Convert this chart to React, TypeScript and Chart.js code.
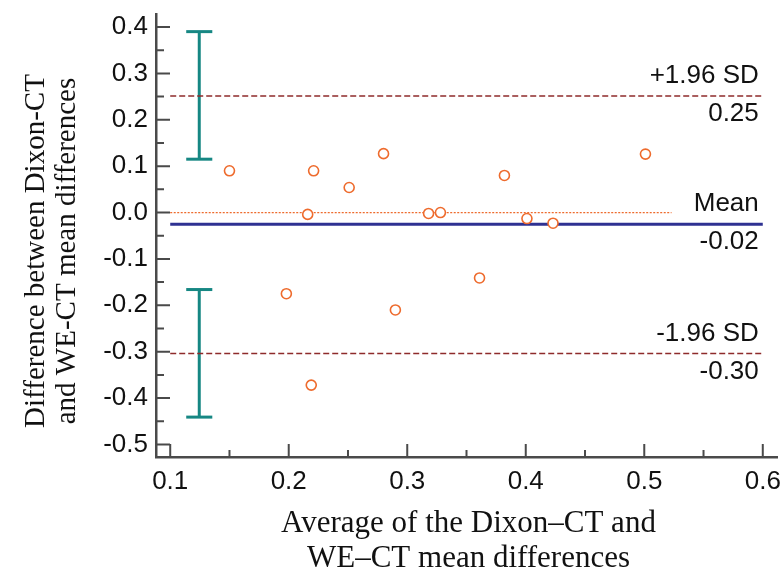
import React, { useEffect, useRef } from "react";
import { Chart, registerables } from "chart.js";

Chart.register(...registerables);

// ---- data ----
const avgValues = [0.150, 0.221, 0.251, 0.280, 0.216, 0.198, 0.501, 0.382, 0.318, 0.328, 0.401, 0.423, 0.361, 0.290, 0.219];
const diffValues = [0.090, 0.090, 0.054, 0.127, -0.004, -0.175, 0.126, 0.080, -0.002, 0.000, -0.013, -0.023, -0.141, -0.210, -0.372];

const meanDiff = -0.025;
const upperLoA = 0.251;
const lowerLoA = -0.304;
const limitLineX = [0.1, 0.6];
const zeroLineX = [0.1, 0.523];

const ciX = 0.1245;
const ciCapX = [0.1135, 0.1355];
const upperCI = [0.115, 0.39];
const lowerCI = [-0.441, -0.166];

const xRange = [0.088, 0.612];
const yRange = [-0.527, 0.428];
const xTicks = [0.1, 0.2, 0.3, 0.4, 0.5, 0.6];
const xMinorTicks = [0.15, 0.25, 0.35, 0.45, 0.55];
const yTicks = [-0.5, -0.4, -0.3, -0.2, -0.1, 0.0, 0.1, 0.2, 0.3, 0.4];
const yMinorTicks = [-0.45, -0.35, -0.25, -0.15, -0.05, 0.05, 0.15, 0.25, 0.35];

const upperLabels = ["+1.96 SD", "0.25"];
const meanLabels = ["Mean", "-0.02"];
const lowerLabels = ["-1.96 SD", "-0.30"];

const xTitle = ["Average of the Dixon\u2013CT and", "WE\u2013CT mean differences"];
const yTitle = ["Difference between Dixon-CT", "and WE-CT mean differences"];

// ---- styles ----
const AXIS = "#4a4a4a";
const ORANGE = "#EE6B2D";
const TEAL = "#168783";
const NAVY = "#2E3192";
const DARKRED = "#8E2B2B";
const SANS = '"Liberation Sans", Arial, sans-serif';
const SERIF = '"Liberation Serif", "Times New Roman", serif';

function seg(x0: number, y0: number, x1: number, y1: number) {
  return [
    { x: x0, y: y0 },
    { x: x1, y: y1 },
  ];
}

const overlay = {
  id: "overlay",
  afterDraw(chart: any) {
    const { ctx, chartArea } = chart;
    const xs = chart.scales.x;
    const ys = chart.scales.y;
    ctx.save();
    // inward ticks
    ctx.strokeStyle = AXIS;
    ctx.lineWidth = 2;
    ctx.beginPath();
    yTicks.forEach((v) => {
      const p = ys.getPixelForValue(v);
      ctx.moveTo(chartArea.left, p);
      ctx.lineTo(chartArea.left + 14, p);
    });
    yMinorTicks.forEach((v) => {
      const p = ys.getPixelForValue(v);
      ctx.moveTo(chartArea.left, p);
      ctx.lineTo(chartArea.left + 8, p);
    });
    xTicks.forEach((v) => {
      const p = xs.getPixelForValue(v);
      ctx.moveTo(p, chartArea.bottom);
      ctx.lineTo(p, chartArea.bottom - 13);
    });
    xMinorTicks.forEach((v) => {
      const p = xs.getPixelForValue(v);
      ctx.moveTo(p, chartArea.bottom);
      ctx.lineTo(p, chartArea.bottom - 7);
    });
    ctx.stroke();

    // line labels
    ctx.fillStyle = "#111";
    ctx.font = `26px ${SANS}`;
    ctx.textAlign = "right";
    ctx.textBaseline = "middle";
    const rx = xs.getPixelForValue(limitLineX[1]) - 4;
    const groups: [number, string[]][] = [
      [upperLoA, upperLabels],
      [meanDiff, meanLabels],
      [lowerLoA, lowerLabels],
    ];
    groups.forEach(([v, labels]) => {
      const p = ys.getPixelForValue(v);
      ctx.fillText(labels[0], rx, p - 20);
      ctx.fillText(labels[1], rx, p + 18);
    });

    // x title
    ctx.font = `31px ${SERIF}`;
    ctx.textAlign = "center";
    ctx.textBaseline = "alphabetic";
    const cx = (chartArea.left + chartArea.right) / 2 + 2;
    ctx.fillText(xTitle[0], cx, chartArea.bottom + 75);
    ctx.fillText(xTitle[1], cx, chartArea.bottom + 110);

    // y title
    ctx.font = `29px ${SERIF}`;
    ctx.translate(0, 251);
    ctx.rotate(-Math.PI / 2);
    ctx.fillText(yTitle[0], 0, 44);
    ctx.fillText(yTitle[1], 0, 75);
    ctx.restore();
  },
};

export default function App() {
  const ref = useRef<HTMLCanvasElement | null>(null);

  useEffect(() => {
    if (!ref.current) return;
    const lineDs = (data: any[], color: string, width: number, dash: number[] = []) => ({
      data,
      showLine: true,
      borderColor: color,
      borderWidth: width,
      borderDash: dash,
      pointRadius: 0,
      pointHoverRadius: 0,
      fill: false,
    });

    const chart = new Chart(ref.current, {
      type: "scatter",
      data: {
        datasets: [
          {
            data: avgValues.map((x, i) => ({ x, y: diffValues[i] })),
            pointStyle: "circle",
            pointRadius: 5,
            pointBorderWidth: 1.6,
            pointBorderColor: ORANGE,
            pointBackgroundColor: "#ffffff",
            showLine: false,
          } as any,
          lineDs(seg(limitLineX[0], meanDiff, limitLineX[1], meanDiff), NAVY, 3),
          lineDs(seg(limitLineX[0], upperLoA, limitLineX[1], upperLoA), DARKRED, 1.5, [6, 3]),
          lineDs(seg(limitLineX[0], lowerLoA, limitLineX[1], lowerLoA), DARKRED, 1.5, [6, 3]),
          lineDs(seg(zeroLineX[0], 0, zeroLineX[1], 0), ORANGE, 1.2, [2, 1.5]),
          lineDs(seg(ciX, upperCI[0], ciX, upperCI[1]), TEAL, 3),
          lineDs(seg(ciCapX[0], upperCI[0], ciCapX[1], upperCI[0]), TEAL, 3),
          lineDs(seg(ciCapX[0], upperCI[1], ciCapX[1], upperCI[1]), TEAL, 3),
          lineDs(seg(ciX, lowerCI[0], ciX, lowerCI[1]), TEAL, 3),
          lineDs(seg(ciCapX[0], lowerCI[0], ciCapX[1], lowerCI[0]), TEAL, 3),
          lineDs(seg(ciCapX[0], lowerCI[1], ciCapX[1], lowerCI[1]), TEAL, 3),
        ],
      },
      options: {
        animation: false,
        responsive: false,
        events: [],
        layout: { padding: { top: 14, right: 7, left: 0, bottom: 0 } },
        plugins: { legend: { display: false }, tooltip: { enabled: false } },
        scales: {
          x: {
            type: "linear",
            min: xRange[0],
            max: xRange[1],
            afterFit: (s: any) => {
              s.height = 117;
              s.paddingLeft = 0;
              s.paddingRight = 0;
              s.paddingTop = 0;
              s.paddingBottom = 0;
            },
            afterBuildTicks: (s: any) => {
              s.ticks = xTicks.map((v) => ({ value: v }));
            },
            ticks: {
              color: "#111",
              font: { family: SANS, size: 26 },
              padding: 9,
              maxRotation: 0,
              autoSkip: false,
              callback: (v: any) => Number(v).toFixed(1),
            },
            grid: { display: false, drawTicks: false },
            border: { display: true, color: AXIS, width: 2.5 },
          },
          y: {
            type: "linear",
            min: yRange[0],
            max: yRange[1],
            afterFit: (s: any) => {
              s.width = 156;
              s.paddingLeft = 0;
              s.paddingRight = 0;
              s.paddingTop = 0;
              s.paddingBottom = 0;
            },
            afterBuildTicks: (s: any) => {
              s.ticks = yTicks.map((v) => ({ value: v }));
            },
            ticks: {
              color: "#111",
              font: { family: SANS, size: 26 },
              padding: 8,
              autoSkip: false,
              callback: (v: any) => Number(v).toFixed(1),
            },
            grid: { display: false, drawTicks: false },
            border: { display: true, color: AXIS, width: 2.5 },
          },
        },
      } as any,
      plugins: [overlay],
    });
    return () => chart.destroy();
  }, []);

  return (
    <div style={{ position: "absolute", left: 0, top: 0, width: 784, height: 574, background: "#fff" }}>
      <canvas ref={ref} width={784} height={574} style={{ display: "block" }} />
    </div>
  );
}
